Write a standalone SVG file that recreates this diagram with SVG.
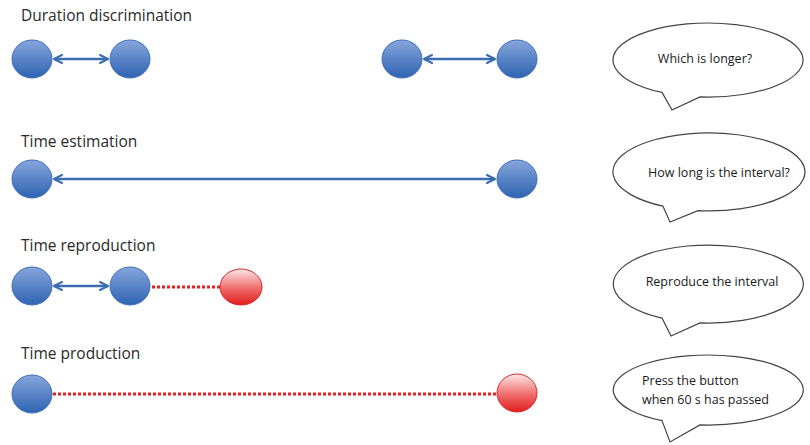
<svg xmlns="http://www.w3.org/2000/svg" width="810" height="445" viewBox="0 0 810 445">
<style>
.title{font-family:"Open Sans","Liberation Sans",sans-serif;font-size:15.5px;fill:#2a2a2a}
.btxt{font-family:"Open Sans","Liberation Sans",sans-serif;font-size:12.5px;fill:#1a1a1a}
.blue{fill:url(#gb);stroke:#3f6fb5;stroke-width:1}
.red{fill:url(#gr);stroke:#d42a2a;stroke-width:1}
.arr{stroke:#3b6db3;stroke-width:2.5;fill:none;marker-start:url(#ah);marker-end:url(#ah)}
.dot{stroke:#e32222;stroke-width:3;fill:none;stroke-dasharray:3 2}
.bub{fill:#fff;stroke:#444;stroke-width:1.2;stroke-linejoin:miter}
</style>
<defs>
<linearGradient id="gb" x1="0" y1="0" x2="0" y2="1">
<stop offset="0" stop-color="#86a6dc"/>
<stop offset="1" stop-color="#2e63b2"/>
</linearGradient>
<linearGradient id="gr" x1="0" y1="0" x2="0" y2="1">
<stop offset="0" stop-color="#fde6e6"/>
<stop offset="0.55" stop-color="#f06a6a"/>
<stop offset="1" stop-color="#e01c1c"/>
</linearGradient>
<marker id="ah" viewBox="0 0 10 10" refX="9" refY="5" markerWidth="4" markerHeight="4" orient="auto-start-reverse" markerUnits="strokeWidth">
<path d="M1 1 L9 5 L1 9" fill="none" stroke="#3b6db3" stroke-width="2" stroke-linecap="round" stroke-linejoin="round"/>
</marker>
</defs>

<g id="titles">
<text class="title" x="21" y="21">Duration discrimination</text>
<text class="title" x="21" y="147">Time estimation</text>
<text class="title" x="21" y="251">Time reproduction</text>
<text class="title" x="21" y="359">Time production</text>
</g>

<g id="connectors">
<line class="arr" x1="54" y1="59" x2="108" y2="59"/>
<line class="arr" x1="424" y1="59" x2="495" y2="59"/>
<line class="arr" x1="54" y1="179" x2="495" y2="179"/>
<line class="arr" x1="54" y1="286" x2="108" y2="286"/>
<line class="dot" x1="152" y1="287" x2="220" y2="287"/>
<line class="dot" x1="53" y1="394" x2="497" y2="394"/>
</g>

<g id="n1a"><ellipse class="blue" cx="32" cy="59" rx="20" ry="19"/></g>
<g id="n1b"><ellipse class="blue" cx="130" cy="59" rx="20" ry="19"/></g>
<g id="n1c"><ellipse class="blue" cx="402" cy="59" rx="20" ry="19"/></g>
<g id="n1d"><ellipse class="blue" cx="517" cy="59" rx="20" ry="19"/></g>
<g id="n2a"><ellipse class="blue" cx="32" cy="179" rx="20" ry="19"/></g>
<g id="n2b"><ellipse class="blue" cx="517" cy="179" rx="20" ry="19"/></g>
<g id="n3a"><ellipse class="blue" cx="32" cy="286" rx="20" ry="19"/></g>
<g id="n3b"><ellipse class="blue" cx="130" cy="286" rx="20" ry="19"/></g>
<g id="n3c"><ellipse class="red" cx="241" cy="287" rx="21" ry="18"/></g>
<g id="n4a"><ellipse class="blue" cx="32" cy="394" rx="20" ry="19"/></g>
<g id="n4b"><ellipse class="red" cx="517" cy="393" rx="20" ry="19"/></g>

<g id="bubble1">
<path class="bub" d="M662 92.4 L672 110 L700 96.9 A95 37 0 1 0 662 92.4 Z"/>
<text class="btxt" x="705" y="63" text-anchor="middle">Which is longer?</text>
</g>
<g id="bubble2">
<path class="bub" d="M663 206.2 L670 222 L698 210.7 A96 39 0 1 0 663 206.2 Z"/>
<text class="btxt" x="719" y="177" text-anchor="middle">How long is the interval?</text>
</g>
<g id="bubble3">
<path class="bub" d="M662 318.1 L671 336 L700 322.9 A95 39 0 1 0 662 318.1 Z"/>
<text class="btxt" x="712" y="286" text-anchor="middle">Reproduce the interval</text>
</g>
<g id="bubble4">
<path class="bub" d="M662 420.6 L670 442 L700 424.9 A95 35 0 1 0 662 420.6 Z"/>
<text class="btxt" x="642" y="385">Press the button</text>
<text class="btxt" x="642" y="404">when 60 s has passed</text>
</g>
</svg>
